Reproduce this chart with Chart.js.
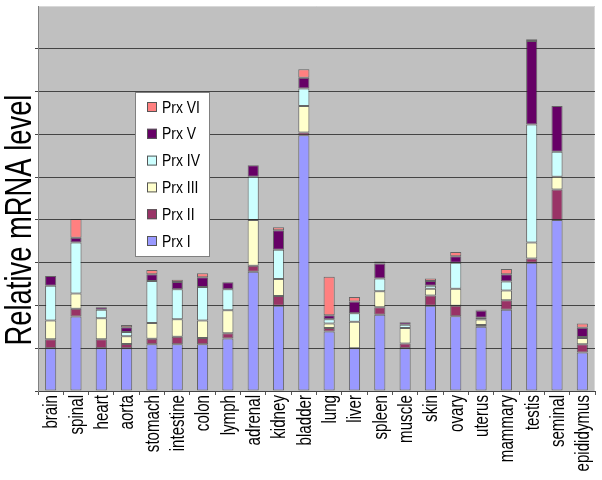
<!DOCTYPE html>
<html>
<head>
<meta charset="utf-8">
<script src="https://cdn.jsdelivr.net/npm/chart.js@4/dist/chart.umd.min.js"></script>
<style>
html,body{margin:0;padding:0;background:#fff;}
#wrap{width:602px;height:480px;position:relative;}
</style>
</head>
<body>
<div id="wrap"><canvas id="c" width="602" height="480"></canvas></div>
<script>
const categories = ["brain","spinal","heart","aorta","stomach","intestine","colon","lymph","adrenal","kidney","bladder","lung","liver","spleen","muscle","skin","ovary","uterus","mammary","testis","seminal","epididymus"];
const prx1 = [1.00,1.74,1.00,1.00,1.09,1.09,1.09,1.23,2.79,1.99,5.98,1.39,1.00,1.78,1.00,1.99,1.75,1.50,1.90,3.00,4.00,0.90];
const prx2 = [0.21,0.18,0.21,0.10,0.13,0.18,0.15,0.12,0.14,0.23,0.06,0.08,0.00,0.18,0.11,0.24,0.24,0.04,0.22,0.10,0.71,0.19];
const prx3 = [0.44,0.36,0.49,0.18,0.37,0.41,0.41,0.54,1.07,0.40,0.62,0.11,0.62,0.37,0.36,0.16,0.40,0.13,0.23,0.37,0.30,0.15];
const prx4 = [0.81,1.19,0.20,0.10,0.98,0.70,0.78,0.49,1.01,0.68,0.41,0.10,0.20,0.30,0.08,0.07,0.61,0.04,0.21,2.76,0.58,0.02];
const prx5 = [0.23,0.11,0.06,0.11,0.16,0.17,0.23,0.16,0.27,0.46,0.25,0.09,0.27,0.35,0.06,0.11,0.15,0.17,0.17,1.95,1.07,0.22];
const prx6 = [0.00,0.44,0.00,0.05,0.10,0.05,0.09,0.00,0.00,0.07,0.20,0.90,0.11,0.05,0.00,0.06,0.10,0.02,0.12,0.04,0.00,0.10];
const seriesNames = ["Prx I","Prx II","Prx III","Prx IV","Prx V","Prx VI"];
const seriesColors = ["#9999FF","#993366","#FFFFCC","#CCFFFF","#660066","#FF8080"];
const yTitle = "Relative mRNA level";

const FONT = "'Liberation Sans',Arial,sans-serif";

const seriesData = [prx1,prx2,prx3,prx4,prx5,prx6];

const bgPlugin = {
  id:'plotBg',
  beforeDraw(chart){
    const {ctx, chartArea:a} = chart;
    ctx.save();
    ctx.fillStyle = '#C0C0C0';
    ctx.fillRect(a.left, a.top, a.right-a.left, a.bottom-a.top);
    ctx.strokeStyle = '#d8d8d8';
    ctx.lineWidth = 1;
    ctx.beginPath();
    ctx.moveTo(a.left, a.top+0.5); ctx.lineTo(a.right-0.5, a.top+0.5); ctx.lineTo(a.right-0.5, a.bottom);
    ctx.stroke();
    ctx.restore();
  },
  afterDraw(chart){
    const ctx = chart.ctx;
    // category labels (condensed), placed by the x scale
    const xs = chart.scales.x;
    ctx.save();
    ctx.fillStyle = '#000';
    ctx.font = "21px " + FONT;
    ctx.textAlign = 'right';
    ctx.textBaseline = 'middle';
    chart.data.labels.forEach((lab, i) => {
      const x = xs.getPixelForTick(i);
      ctx.save();
      ctx.translate(x + 1, xs.top + 4);
      ctx.rotate(-Math.PI/2);
      ctx.scale(0.72, 1);
      ctx.fillText(lab, 0, 0);
      ctx.restore();
    });
    ctx.restore();
    // y-axis title
    ctx.save();
    ctx.translate(21, 220);
    ctx.rotate(-Math.PI/2);
    ctx.scale(0.76, 1);
    ctx.fillStyle = '#000';
    ctx.font = "36px " + FONT;
    ctx.textAlign = 'center';
    ctx.textBaseline = 'middle';
    ctx.fillText(yTitle, 0, 0);
    ctx.restore();
    // legend box
    const bx = 135, by = 92, bw = 74, bh = 164;
    ctx.save();
    ctx.fillStyle = '#fff';
    ctx.fillRect(bx, by, bw, bh);
    ctx.strokeStyle = '#808080';
    ctx.lineWidth = 1;
    ctx.strokeRect(bx+0.5, by+0.5, bw, bh);
    const ds = chart.data.datasets;
    for (let i = 0; i < ds.length; i++) {
      const d = ds[ds.length-1-i];
      const cy = 107 + i*26.8;
      ctx.fillStyle = d.backgroundColor;
      ctx.fillRect(147, cy-5, 10, 10);
      ctx.strokeStyle = '#555';
      ctx.strokeRect(147.5, cy-4.5, 9, 9);
      ctx.save();
      ctx.translate(162, cy+1);
      ctx.scale(0.82, 1);
      ctx.font = "17px " + FONT;
      ctx.textBaseline = 'middle';
      ctx.textAlign = 'left';
      ctx.fillStyle = '#000';
      ctx.fillText(d.label, 0, 0);
      ctx.restore();
    }
    ctx.restore();
  }
};

new Chart(document.getElementById('c'), {
  type:'bar',
  data:{
    labels: categories,
    datasets: seriesData.map((d,i)=>({
      label: seriesNames[i],
      data: d,
      backgroundColor: seriesColors[i],
      borderColor: 'rgba(40,40,40,0.6)',
      borderWidth: 1,
      borderSkipped: false,
      categoryPercentage: 1.0,
      barPercentage: 0.44
    }))
  },
  options:{
    responsive:false,
    animation:false,
    devicePixelRatio:1,
    layout:{padding:{top:6,right:7,left:0,bottom:0}},
    plugins:{legend:{display:false},tooltip:{enabled:false},title:{display:false}},
    scales:{
      x:{
        stacked:true,
        afterFit(s){ s.height = 89; },
        grid:{drawOnChartArea:false, drawTicks:true, tickLength:4, offset:true, color:'#555'},
        border:{display:true, color:'#444', width:1},
        ticks:{display:false, autoSkip:false}
      },
      y:{
        stacked:true,
        min:0, max:9,
        afterFit(s){ s.width = 38; },
        ticks:{display:false, stepSize:1},
        grid:{drawTicks:true, tickLength:3, color:(c)=> (c.tick && c.tick.value===9) ? 'rgba(0,0,0,0)' : '#444', lineWidth:1},
        border:{display:true, color:'#808080', width:1}
      }
    }
  },
  plugins:[bgPlugin]
});
</script>
</body>
</html>
